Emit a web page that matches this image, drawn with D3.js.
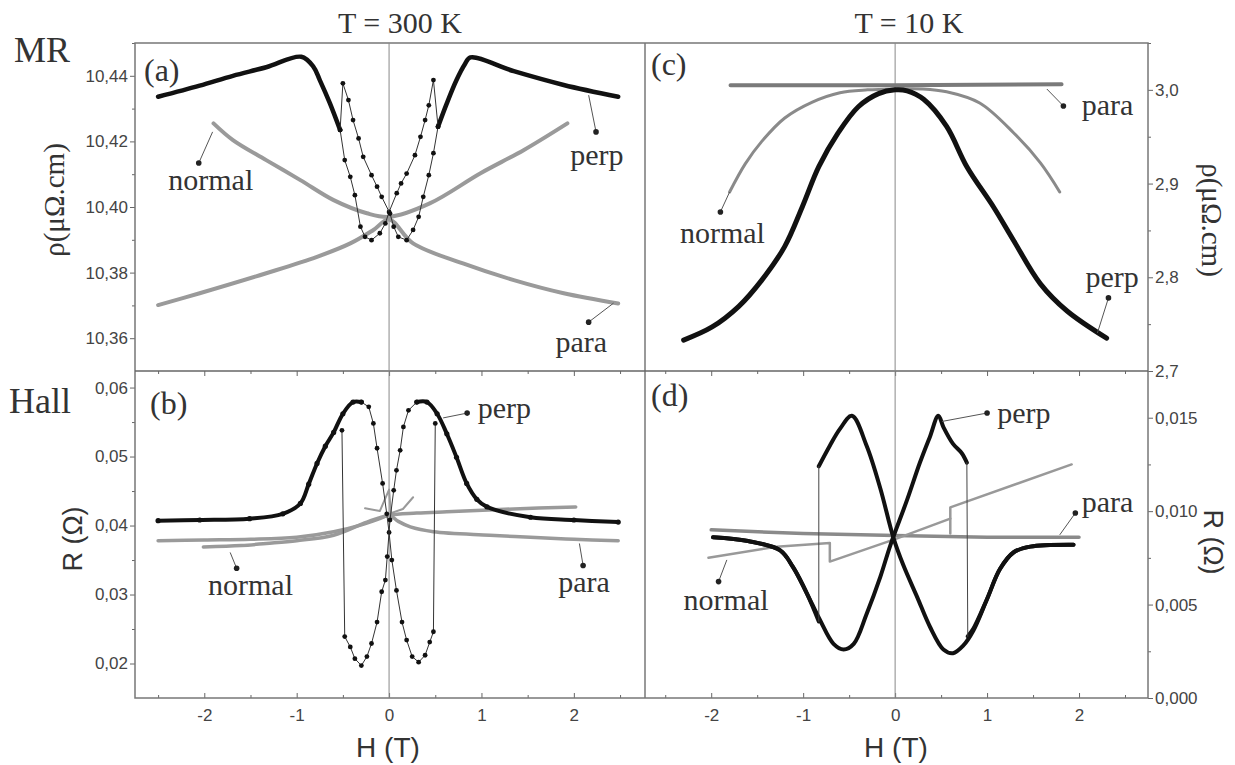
<!DOCTYPE html>
<html lang="en">
<head>
<meta charset="UTF-8">
<title>MR and Hall at 300 K and 10 K</title>
<script src="https://d3js.org/d3.v7.min.js"></script>
<style>
  body { margin: 0; background: #fff; }
  svg { display: block; }
  .serif { font-family: 'Liberation Serif', 'Times New Roman', serif; fill: #333; }
  .sans { font-family: 'Liberation Sans', Arial, sans-serif; fill: #333; }
  .axis line { stroke: #666; }
  .axis text { font-family: 'Liberation Sans', Arial, sans-serif; font-size: 17px; fill: #444; }
</style>
</head>
<body>
<svg width="1235" height="765"></svg>
<script>
// ---------- tick values ----------
const xTicks = [-2, -1, 0, 1, 2];
const xMinor = [-2.5, -1.5, -0.5, 0.5, 1.5, 2.5];
const aTicks = [10.36, 10.38, 10.40, 10.42, 10.44];
const aMinor = [10.37, 10.39, 10.41, 10.43, 10.45];
const bTicks = [0.02, 0.03, 0.04, 0.05, 0.06];
const bMinor = [0.025, 0.035, 0.045, 0.055];
const cTicks = [2.7, 2.8, 2.9, 3.0];
const cMinor = [2.75, 2.85, 2.95, 3.05];
const dTicks = [0, 0.005, 0.010, 0.015];
const dMinor = [0.0025, 0.0075, 0.0125, 0.0175];

// ---------- (a) MR, 300 K : [H (T), rho (µΩ.cm)] ----------
const aPerpOutL = [[-2.5,10.4336],[-2.05,10.4370],[-1.69,10.4400],[-1.33,10.4426],[-0.95,10.4458],[-0.82,10.4428],[-0.75,10.4387],[-0.64,10.4316],[-0.53,10.4235]];
const aPerpOutR = [[0.53,10.4245],[0.625,10.4316],[0.73,10.4387],[0.82,10.4435],[0.88,10.4456],[1.35,10.4414],[1.89,10.4372],[2.48,10.4336]];
const aPerpInUp = [[-0.53,10.4235],[-0.48,10.4143],[-0.42,10.4092],[-0.37,10.4036],[-0.31,10.394],[-0.26,10.3909],[-0.19,10.3899],[-0.10,10.392],[-0.04,10.395],[0,10.3985],[0.083,10.4042],[0.13,10.4072],[0.19,10.4102],[0.28,10.4158],[0.34,10.4214],[0.39,10.4265],[0.43,10.431],[0.48,10.4387],[0.53,10.4245]];
const aPerpInDown = [[0.53,10.4245],[0.48,10.4164],[0.43,10.4097],[0.37,10.4031],[0.32,10.397],[0.26,10.393],[0.19,10.3899],[0.10,10.3909],[0.05,10.394],[0.01,10.398],[-0.08,10.4031],[-0.13,10.4062],[-0.19,10.4097],[-0.28,10.4153],[-0.33,10.4209],[-0.39,10.4265],[-0.44,10.4326],[-0.50,10.4377],[-0.53,10.4235]];
const aNormal = [[-1.90,10.4255],[-1.69,10.4204],[-1.33,10.4143],[-0.96,10.4082],[-0.60,10.4021],[-0.24,10.3981],[0,10.397],[0.44,10.4011],[0.99,10.4103],[1.46,10.4174],[1.93,10.4255]];
const aPara = [[-2.50,10.3701],[-2.05,10.3737],[-1.33,10.3798],[-0.78,10.3848],[-0.42,10.3889],[-0.17,10.393],[0,10.3962],[0.26,10.3889],[0.80,10.3828],[1.35,10.3777],[1.89,10.3737],[2.48,10.3706]];

// ---------- (b) Hall, 300 K : [H (T), R (Ω)] ----------
const bPerpOutL = [[-2.5,0.0407],[-2.05,0.0408],[-1.51,0.0410],[-1.15,0.0417],[-0.96,0.0432],[-0.87,0.0460],[-0.78,0.0490],[-0.69,0.0515],[-0.60,0.0535],[-0.50,0.0562],[-0.39,0.0579],[-0.30,0.0579]];
const bPerpOutR = [[0.30,0.0579],[0.41,0.0579],[0.52,0.0562],[0.625,0.0533],[0.73,0.0499],[0.84,0.0461],[0.95,0.0438],[1.06,0.0427],[1.53,0.0412],[2.0,0.0408],[2.48,0.0405]];
const bPerpInUp = [[-0.30,0.0579],[-0.22,0.0572],[-0.17,0.0548],[-0.13,0.0512],[-0.07,0.0461],[-0.025,0.0417],[0,0.0390],[0.03,0.0350],[0.08,0.0306],[0.14,0.0260],[0.19,0.0234],[0.25,0.0210],[0.32,0.0202],[0.39,0.0212],[0.44,0.0231],[0.48,0.0246],[0.50,0.0548]];
const bPerpInDown = [[0.30,0.0579],[0.21,0.0567],[0.155,0.0543],[0.12,0.0509],[0.08,0.0480],[0.05,0.0451],[0.01,0.0408],[-0.02,0.0355],[-0.04,0.0321],[-0.08,0.0304],[-0.13,0.0260],[-0.19,0.0229],[-0.24,0.0210],[-0.30,0.0197],[-0.37,0.0207],[-0.42,0.0224],[-0.48,0.0239],[-0.51,0.0538]];
const bNormal = [[-2.01,0.0369],[-1.6,0.0371],[-1.33,0.0374],[-1.0,0.0378],[-0.6,0.0386],[-0.24,0.0405],[0,0.0415],[0.3,0.0418],[0.625,0.0420],[1.35,0.0424],[2.02,0.0427]];
const bNormalLoop = [[-0.26,0.0425],[-0.1,0.0421],[0,0.0452],[0.02,0.0418],[0.15,0.0424],[0.26,0.0441]];
const bPara = [[-2.5,0.0378],[-2.0,0.0379],[-1.5,0.0380],[-1.0,0.0383],[-0.6,0.0391],[-0.3,0.0401],[-0.1,0.0410],[0,0.0415],[0.1,0.0406],[0.23,0.0398],[0.48,0.0391],[1.09,0.0386],[1.53,0.0383],[2.0,0.0380],[2.48,0.0378]];

// ---------- (c) MR, 10 K ----------
const cPerp = [[-2.30,2.733],[-1.99,2.747],[-1.70,2.769],[-1.45,2.797],[-1.20,2.833],[-1.01,2.875],[-0.83,2.918],[-0.62,2.954],[-0.40,2.982],[-0.18,2.996],[0,3.0],[0.13,2.999],[0.31,2.990],[0.56,2.961],[0.78,2.918],[1.07,2.875],[1.29,2.839],[1.58,2.793],[1.87,2.764],[2.30,2.735]];
const cNormal = [[-1.80,2.891],[-1.63,2.921],[-1.45,2.945],[-1.20,2.970],[-0.90,2.987],[-0.60,2.997],[-0.30,3.0],[0,3.001],[0.30,3.001],[0.56,2.998],[0.92,2.986],[1.29,2.954],[1.58,2.922],[1.79,2.891]];
const cPara = [[-1.79,3.005],[0,3.005],[1.81,3.006]];

// ---------- (d) Hall, 10 K ----------
const dPerpUpA = [[-1.98,0.0086],[-1.6,0.0084],[-1.25,0.0079],[-1.11,0.0070],[-0.96,0.0056],[-0.82,0.0042],[-0.67,0.0029],[-0.56,0.0026],[-0.45,0.0029],[-0.31,0.0045],[-0.16,0.0065],[-0.05,0.0082],[0.13,0.0106],[0.27,0.0126],[0.38,0.0140],[0.47,0.0151],[0.525,0.0145],[0.63,0.0136],[0.725,0.0131],[0.78,0.0126]];
const dPerpUpB = [[0.79,0.0033],[0.85,0.0037],[1.0,0.0053],[1.14,0.0069],[1.29,0.0078],[1.47,0.0081],[1.94,0.0082]];
const dPerpDownA = [[1.94,0.0082],[1.47,0.0081],[1.29,0.0078],[1.14,0.0069],[1.0,0.0053],[0.85,0.0036],[0.74,0.0028],[0.63,0.0024],[0.525,0.0026],[0.38,0.0038],[0.24,0.0054],[0.09,0.0071],[-0.02,0.0086],[-0.16,0.0112],[-0.31,0.0135],[-0.47,0.0151],[-0.60,0.0144],[-0.71,0.0135],[-0.83,0.0124]];
const dPerpDownB = [[-0.83,0.0041],[-0.96,0.0056],[-1.11,0.0070],[-1.25,0.0079],[-1.6,0.0084],[-1.98,0.0086]];
const dPara = [[-2.0,0.0090],[-1.0,0.0088],[0,0.0087],[1.0,0.0086],[2.0,0.0086]];
const dNormalLow = [[-2.03,0.0075],[-1.29,0.0081],[-0.71,0.0083],[-0.71,0.0073],[0,0.0085],[0.6,0.0096]];
const dNormalHigh = [[0.6,0.0088],[0.6,0.0102],[1.92,0.0125]];

// ---------- layout ----------
const svg = d3.select("svg");
const L = 135, M = 645, R = 1148, T = 43, MID = 371, B = 698;

const xL = d3.scaleLinear([-2.75, 2.77], [L, M]);
const xR = d3.scaleLinear([-2.72, 2.75], [M, R]);
const yA = d3.scaleLinear([10.35, 10.45], [MID, T]);
const yB = d3.scaleLinear([0.015, 0.0624], [B, MID]);
const yC = d3.scaleLinear([2.7, 3.05], [MID, T]);
const yD = d3.scaleLinear([0, 0.0175], [B, MID]);

const loc = d3.formatLocale({decimal: ",", thousands: ".", grouping: [3], currency: ["", ""], minus: "-"});

// axes
function addAxis(axis, tx, ty) {
  svg.append("g").attr("class", "axis").attr("transform", `translate(${tx},${ty})`)
    .call(axis).call(g => g.select(".domain").remove());
}
addAxis(d3.axisLeft(yA).tickValues(aTicks).tickSize(5).tickPadding(2).tickFormat(loc.format(".2f")), L, 0);
addAxis(d3.axisLeft(yA).tickValues(aMinor).tickSize(3).tickFormat(""), L, 0);
addAxis(d3.axisLeft(yB).tickValues(bTicks).tickSize(5).tickPadding(2).tickFormat(loc.format(".2f")), L, 0);
addAxis(d3.axisLeft(yB).tickValues(bMinor).tickSize(3).tickFormat(""), L, 0);
addAxis(d3.axisRight(yC).tickValues(cTicks).tickSize(5).tickPadding(2).tickFormat(loc.format(".1f")), R, 0);
addAxis(d3.axisRight(yC).tickValues(cMinor).tickSize(3).tickFormat(""), R, 0);
addAxis(d3.axisRight(yD).tickValues(dTicks).tickSize(5).tickPadding(2).tickFormat(loc.format(".3f")), R, 0);
addAxis(d3.axisRight(yD).tickValues(dMinor).tickSize(3).tickFormat(""), R, 0);
[xL, xR].forEach(x => {
  addAxis(d3.axisBottom(x).tickValues(xTicks).tickSizeInner(-5).tickSizeOuter(0).tickPadding(11).tickFormat(loc.format("d")), 0, B);
  addAxis(d3.axisBottom(x).tickValues(xMinor).tickSizeInner(-3).tickSizeOuter(0).tickFormat(""), 0, B);
  addAxis(d3.axisBottom(x).tickValues(xTicks).tickSize(5).tickFormat(""), 0, MID);
  addAxis(d3.axisBottom(x).tickValues(xMinor).tickSize(3).tickFormat(""), 0, MID);
});

// frames and zero lines
svg.append("rect").attr("x", L).attr("y", T).attr("width", R - L).attr("height", B - T)
  .attr("fill", "none").attr("stroke", "#777").attr("stroke-width", 1.5);
svg.append("line").attr("x1", M).attr("x2", M).attr("y1", T).attr("y2", B).attr("stroke", "#777").attr("stroke-width", 1.5);
svg.append("line").attr("x1", L).attr("x2", R).attr("y1", MID).attr("y2", MID).attr("stroke", "#666").attr("stroke-width", 1.5);
[xL, xR].forEach(x => svg.append("line").attr("x1", x(0)).attr("x2", x(0)).attr("y1", T).attr("y2", B)
  .attr("stroke", "#888").attr("stroke-width", 1));

// drawing helpers
const plot = svg.append("g");
function curve(data, x, y, color, width, smooth) {
  plot.append("path").datum(data)
    .attr("d", d3.line().x(d => x(d[0])).y(d => y(d[1])).curve(smooth ? d3.curveCatmullRom.alpha(0.5) : d3.curveLinear))
    .attr("fill", "none").attr("stroke", color).attr("stroke-width", width)
    .attr("stroke-linejoin", "round").attr("stroke-linecap", "round");
}
function dots(data, x, y, r, color) {
  plot.append("g").selectAll("circle").data(data).join("circle")
    .attr("cx", d => x(d[0])).attr("cy", d => y(d[1])).attr("r", r).attr("fill", color);
}
function jump(a, b, x, y) {
  const p = a[a.length - 1], q = b[0];
  curve([p, q], x, y, "#444", 1, false);
}

const GRAY = "#9a9a9a", BLACK = "#111";

// (a)
curve(aNormal, xL, yA, GRAY, 4, true);
curve(aPara, xL, yA, GRAY, 4, true);
curve(aPerpOutL, xL, yA, BLACK, 4.5, true);
curve(aPerpOutR, xL, yA, BLACK, 4.5, true);
[aPerpInUp, aPerpInDown].forEach(s => { curve(s, xL, yA, "#333", 1, false); dots(s, xL, yA, 2.4, BLACK); });

// (b)
curve(bPara, xL, yB, GRAY, 3.5, true);
curve(bNormal, xL, yB, GRAY, 3.5, true);
curve(bNormalLoop, xL, yB, GRAY, 2, false);
curve(bPerpOutL, xL, yB, BLACK, 4, true);
curve(bPerpOutR, xL, yB, BLACK, 4, true);
dots(bPerpOutL, xL, yB, 2.6, BLACK);
dots(bPerpOutR, xL, yB, 2.6, BLACK);
[bPerpInUp, bPerpInDown].forEach(s => { curve(s, xL, yB, "#333", 1, false); dots(s, xL, yB, 2.4, BLACK); });

// (c)
curve(cNormal, xR, yC, "#8a8a8a", 3, true);
curve(cPara, xR, yC, "#7a7a7a", 4, false);
curve(cPerp, xR, yC, BLACK, 5, true);

// (d)
curve(dPara, xR, yD, "#8a8a8a", 3.5, false);
curve(dNormalLow, xR, yD, "#999", 2.5, false);
curve(dNormalHigh, xR, yD, "#999", 2.5, false);
curve(dPerpUpA, xR, yD, BLACK, 4, true);
curve(dPerpUpB, xR, yD, BLACK, 4, true);
curve(dPerpDownA, xR, yD, BLACK, 4, true);
curve(dPerpDownB, xR, yD, BLACK, 4, true);
jump(dPerpUpA, dPerpUpB, xR, yD);
jump(dPerpDownA, dPerpDownB, xR, yD);

// ---------- annotations (data coordinates) ----------
const notes = [
  {x: xL, y: yA, text: "normal", from: [-1.91, 10.4229], to: [-2.06, 10.4134], at: [-2.39, 10.4052]},
  {x: xL, y: yA, text: "perp", from: [2.16, 10.4341], to: [2.24, 10.4229], at: [1.96, 10.4128]},
  {x: xL, y: yA, text: "para", from: [2.43, 10.3707], to: [2.16, 10.3649], at: [1.80, 10.3558]},
  {x: xL, y: yB, text: "perp", from: [0.585, 0.0556], to: [0.845, 0.0563], at: [0.96, 0.0556]},
  {x: xL, y: yB, text: "normal", from: [-1.72, 0.0361], to: [-1.65, 0.0338], at: [-1.96, 0.0299]},
  {x: xL, y: yB, text: "para", from: [2.06, 0.0374], to: [2.10, 0.0342], at: [1.83, 0.0303]},
  {x: xR, y: yC, text: "para", from: [1.65, 3.0009], to: [1.83, 2.9828], at: [2.03, 2.9732]},
  {x: xR, y: yC, text: "perp", from: [2.20, 2.7406], to: [2.32, 2.778], at: [2.07, 2.7897]},
  {x: xR, y: yC, text: "normal", from: [-1.80, 2.891], to: [-1.90, 2.8697], at: [-2.34, 2.8366]},
  {x: xR, y: yD, text: "perp", from: [0.51, 0.0148], to: [1.0, 0.01525], at: [1.11, 0.01473]},
  {x: xR, y: yD, text: "para", from: [1.79, 0.00873], to: [1.96, 0.0099], at: [2.03, 0.00996]},
  {x: xR, y: yD, text: "normal", from: [-1.83, 0.00739], to: [-1.92, 0.00623], at: [-2.30, 0.00471]}
];
notes.forEach(n => {
  svg.append("line").attr("x1", n.x(n.from[0])).attr("y1", n.y(n.from[1]))
    .attr("x2", n.x(n.to[0])).attr("y2", n.y(n.to[1])).attr("stroke", "#555").attr("stroke-width", 1);
  svg.append("circle").attr("cx", n.x(n.to[0])).attr("cy", n.y(n.to[1])).attr("r", 2.8).attr("fill", "#222");
  svg.append("text").attr("class", "serif").attr("x", n.x(n.at[0])).attr("y", n.y(n.at[1]))
    .attr("font-size", 30).text(n.text);
});

// ---------- titles and labels ----------
function label(txt, x, y, size, cls, anchor, rot) {
  const t = svg.append("text").attr("class", cls).attr("font-size", size)
    .attr("text-anchor", anchor || "start").text(txt);
  if (rot) t.attr("transform", `translate(${x},${y}) rotate(${rot})`).attr("dominant-baseline", "central");
  else t.attr("x", x).attr("y", y);
}
label("T = 300 K", 400, 33, 30, "serif", "middle");
label("T = 10 K", 909, 33, 30, "serif", "middle");
label("MR", 14, 62, 36, "serif");
label("Hall", 9, 413, 36, "serif");
label("(a)", 144, 81, 32, "serif");
label("(b)", 150, 414, 32, "serif");
label("(c)", 651, 75, 32, "serif");
label("(d)", 651, 406, 32, "serif");
label("ρ(μΩ.cm)", 54, 200, 29, "serif", "middle", -90);
label("ρ(μΩ.cm)", 1212, 220, 29, "serif", "middle", 90);
label("R (Ω)", 73, 539, 27, "sans", "middle", -90);
label("R (Ω)", 1213, 542, 27, "sans", "middle", 90);
label("H (T)", 388, 757, 28, "sans", "middle");
label("H (T)", 896, 757, 28, "sans", "middle");
</script>
</body>
</html>
